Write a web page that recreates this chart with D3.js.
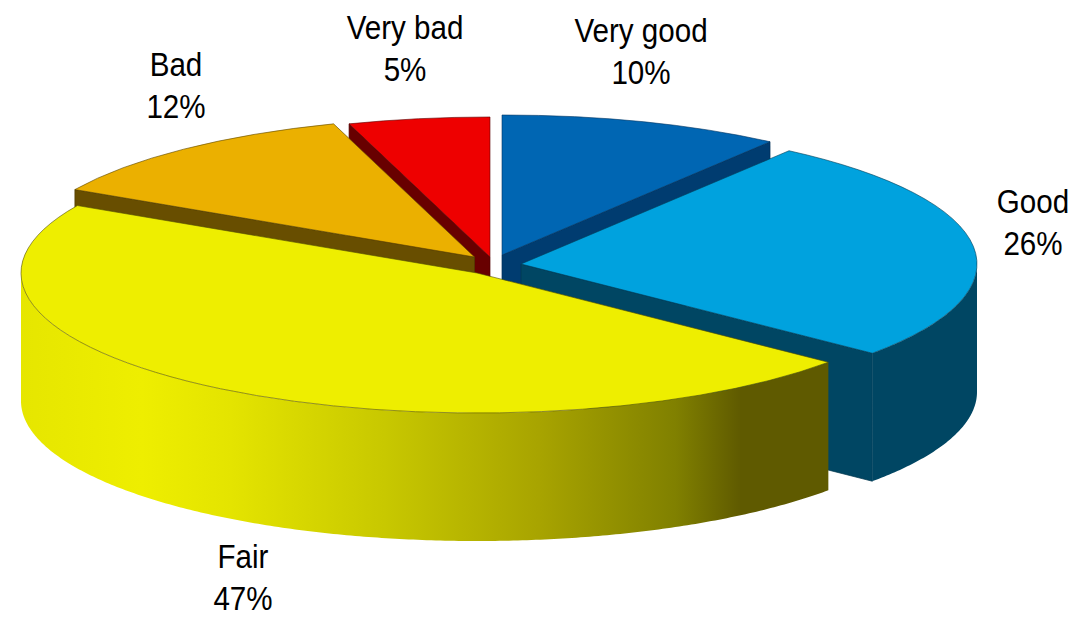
<!DOCTYPE html>
<html>
<head>
<meta charset="utf-8">
<script src="https://cdn.jsdelivr.net/npm/d3@7"></script>
<style>
  html, body { margin: 0; padding: 0; background: #fff; }
  svg { display: block; }
  text { font-family: "Liberation Sans", Arial, sans-serif; fill: #000; }
</style>
</head>
<body>
<svg id="chart" width="1073" height="618"></svg>
<script>
// data
const categories = ['Very good', 'Good', 'Fair', 'Bad', 'Very bad'];
const shares = [10, 26, 47, 12, 5];

// colours
const topColors = ['#0066b3', '#00a2de', '#eeee00', '#ebb000', '#ee0000'];
const sideColors = ['#003c70', '#004663', '#5f5a00', '#684e00', '#680000'];

// layout, one entry per slice
const centerX = [502, 521, 477, 474.5, 490];
const centerY = [255, 264, 273, 257, 257];
const labelX = [641, 1033, 243, 176, 405];
const labelY = [42, 213, 568, 76, 39];
const drawOrder = [4, 0, 3, 1, 2];

const rx = 456, ry = 140, depth = 128;
const fontSize = 34, lineGap = 42, squeeze = 0.87;

const svg = d3.select('#chart');

// shading of the front of the Fair slice
const fade = svg.append('defs').append('linearGradient')
    .attr('id', 'fairSide')
    .attr('gradientUnits', 'userSpaceOnUse')
    .attr('x1', 20).attr('x2', 830).attr('y1', 0).attr('y2', 0);
[[0, '#e6e600'], [0.15, '#eeee00'], [0.26, '#e4e400'], [0.45, '#c8c800'],
 [0.64, '#a8a400'], [0.81, '#808000'], [0.89, '#5f5a00'], [1, '#5f5a00']].forEach(s => {
    fade.append('stop').attr('offset', s[0]).attr('stop-color', s[1]);
});

const slices = d3.pie().sort(null).startAngle(0).endAngle(2 * Math.PI)(shares);
const arc = d3.arc().innerRadius(0).outerRadius(rx);

drawOrder.forEach(i => {
    const d = slices[i];
    const px = a => centerX[i] + rx * Math.sin(a);
    const py = a => centerY[i] - ry * Math.cos(a);
    const g = svg.append('g').attr('class', 'slice');
    const side = categories[i] === 'Fair' ? 'url(#fairSide)' : sideColors[i];

    // radial walls, only the ones that face the viewer
    const wall = a => {
        const p = [[centerX[i], centerY[i]], [px(a), py(a)]];
        g.append('path')
            .attr('d', d3.area().x(q => q[0]).y0(q => q[1]).y1(q => q[1] + depth)(p))
            .attr('fill', sideColors[i])
            .attr('stroke', d3.color(sideColors[i]).darker(0.7))
            .attr('stroke-width', 0.7);
    };
    if (Math.sin(d.startAngle) < -1e-6) wall(d.startAngle);
    if (Math.sin(d.endAngle) > 1e-6) wall(d.endAngle);

    // outer wall between 90 and 270 degrees
    const from = Math.max(d.startAngle, Math.PI / 2);
    const to = Math.min(d.endAngle, 3 * Math.PI / 2);
    if (to > from) {
        const angles = d3.range(from, to, 0.01).concat([to]);
        g.append('path')
            .attr('d', d3.area().x(px).y0(py).y1(a => py(a) + depth)(angles))
            .attr('fill', side);
    }

    // top surface
    g.append('path')
        .attr('d', arc(d))
        .attr('transform', `translate(${centerX[i]},${centerY[i]}) scale(1,${ry / rx})`)
        .attr('fill', topColors[i])
        .attr('stroke', d3.color(sideColors[i]).darker(0.4))
        .attr('stroke-width', 0.6)
        .attr('vector-effect', 'non-scaling-stroke');
});

// labels
categories.forEach((name, i) => {
    const t = svg.append('text')
        .attr('transform', `translate(${labelX[i]},${labelY[i]}) scale(${squeeze},1)`)
        .attr('text-anchor', 'middle')
        .attr('font-size', fontSize);
    t.append('tspan').attr('x', 0).attr('y', 0).text(name);
    t.append('tspan').attr('x', 0).attr('y', lineGap).text(shares[i] + '%');
});
</script>
</body>
</html>
